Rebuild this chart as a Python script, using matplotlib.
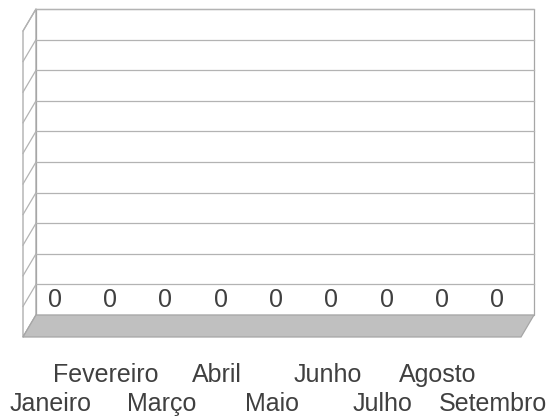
import matplotlib
matplotlib.use("Agg")
import matplotlib.pyplot as plt
import numpy as np
from matplotlib.patches import Polygon, Rectangle

# ---- data ----
months = ["Janeiro", "Fevereiro", "Março", "Abril", "Maio",
          "Junho", "Julho", "Agosto", "Setembro"]
values = [0, 0, 0, 0, 0, 0, 0, 0, 0]
y_ticks = [0.0, 0.1, 0.2, 0.3, 0.4, 0.5, 0.6, 0.7, 0.8, 0.9, 1.0]

plt.rcParams['font.family'] = ['Liberation Sans', 'DejaVu Sans']

W, H = 553, 416
fig = plt.figure(figsize=(W / 100, H / 100), dpi=100)
# axes = back wall of the 3D chart
left_px, right_px, top_px, bottom_px = 36, 534, 9, 315
ax = fig.add_axes([left_px / W, 1 - bottom_px / H,
                   (right_px - left_px) / W, (bottom_px - top_px) / H])
n = len(months)
ax.set_xlim(-0.5, n - 0.5)
ax.set_ylim(y_ticks[0], y_ticks[-1])
ax.set_axis_off()

# depth offset (pixels -> data units)
dx_px, dy_px = -13, 22
dx = dx_px * (n) / (right_px - left_px)
dy = -dy_px * (y_ticks[-1] - y_ticks[0]) / (bottom_px - top_px)

grid_c = '#b3b3b3'
edge_c = '#a6a6a6'
lw = 0.9
x0, x1 = -0.5, n - 0.5
ymin, ymax = y_ticks[0], y_ticks[-1]

# left wall
ax.add_patch(Polygon([(x0, ymin), (x0, ymax), (x0 + dx, ymax + dy), (x0 + dx, ymin + dy)],
                     closed=True, facecolor='white', edgecolor=edge_c, lw=lw,
                     clip_on=False, zorder=1))
# back wall
ax.add_patch(Rectangle((x0, ymin), x1 - x0, ymax - ymin, facecolor='white',
                       edgecolor=edge_c, lw=lw, clip_on=False, zorder=1))
# gridlines on back wall and left wall
for t in y_ticks[1:]:
    ax.plot([x0, x1], [t, t], color=grid_c, lw=lw, clip_on=False, zorder=2)
for t in y_ticks:
    ax.plot([x0, x0 + dx], [t, t + dy], color=grid_c, lw=lw, clip_on=False, zorder=2)

# floor
ax.add_patch(Polygon([(x0, ymin), (x1, ymin), (x1 + dx, ymin + dy), (x0 + dx, ymin + dy)],
                     closed=True, facecolor='#c0c0c0', edgecolor=edge_c, lw=lw,
                     clip_on=False, zorder=3))

# bars (zero height)
xs = np.arange(n)
ax.bar(xs + 0.5 * dx, values, width=0.6, bottom=ymin, color='#9999ff', lw=0, zorder=4)

txt_c = '#404040'
# value labels
for i, v in enumerate(values):
    ax.annotate(str(v), xy=(i + 0.7 * dx, v), xytext=(0, 8 * 0.72),
                textcoords='offset points', ha='center', va='baseline',
                fontsize=18, color=txt_c, annotation_clip=False, zorder=5)

# category labels (staggered)
for i, m in enumerate(months):
    off = -45 if i % 2 else -74
    ax.annotate(m, xy=(i + dx, ymin + dy), xytext=(0, off * 0.72),
                textcoords='offset points', ha='center', va='baseline',
                fontsize=18, color=txt_c, annotation_clip=False)

fig.savefig("out.png", dpi=100, facecolor='white')
